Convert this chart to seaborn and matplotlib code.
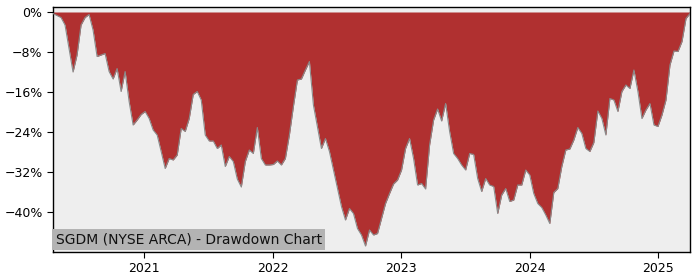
import matplotlib
matplotlib.use("Agg")
import matplotlib.pyplot as plt
import matplotlib.ticker as mticker
import numpy as np
import pandas as pd
import seaborn as sns

# ---- data (drawdown in %, sampled roughly every 11 days) ----
start_date = "2020-04-17"
end_date = "2025-04-01"
drawdown = [
    # 2020-04 .. 2021-01
    -0.3, -0.7, -1.1, -2.6, -7.3, -12.0, -8.6, -2.6, -1.1, -0.5,
    -3.6, -8.9, -8.6, -8.3, -11.9, -13.4, -11.3, -15.9, -11.9, -17.9,
    -22.6, -21.6, -20.5, -19.9, -21.3, -23.6, -24.6,
    # 2021
    -27.9, -31.3, -29.3, -29.6, -28.6, -23.3, -23.9, -21.3, -16.5, -15.9,
    -17.6, -24.6, -25.8, -25.8, -27.3, -26.6, -30.9, -28.9, -29.9, -33.4,
    -35.0, -29.9, -27.6, -28.3, -23.1, -29.3,
    # 2022
    -30.6, -30.6, -30.5, -29.8, -30.6, -29.3, -24.6, -18.9, -13.6, -13.4,
    -11.6, -9.9, -18.6, -22.9, -27.3, -25.3, -27.9, -31.6, -35.3, -38.9,
    -41.6, -39.3, -40.3, -43.3, -44.6, -46.8,
    # late 2022 .. 2023
    -43.6, -44.6, -44.3, -41.3, -38.3, -36.3, -34.4, -33.6, -31.6, -27.3,
    -25.3, -29.3, -34.6, -34.3, -35.4, -26.6, -21.6, -19.4, -21.8, -18.3,
    -23.9, -28.3, -29.3, -30.6, -31.6, -28.3, -28.5,
    # 2023 .. 2024
    -33.3, -35.9, -33.3, -34.6, -34.9, -40.3, -36.6, -35.3, -37.9, -37.6,
    -34.6, -34.6, -31.6, -32.6, -36.3, -38.3, -39.1, -40.6, -42.3, -36.1,
    -35.3, -30.9, -27.6, -27.4, -25.6, -23.1,
    # 2024 .. 2025
    -24.3, -27.3, -27.9, -26.1, -19.8, -21.3, -24.6, -17.3, -17.6, -19.9,
    -15.9, -14.6, -15.3, -11.6, -15.9, -21.3, -19.6, -18.3, -22.6, -22.9,
    -20.6, -17.6, -10.6, -7.8, -7.9, -5.9, -1.3, -0.3,
]
ytick_values = [0, -8, -16, -24, -32, -40]
year_ticks = ["2021", "2022", "2023", "2024", "2025"]
label_text = "SGDM (NYSE ARCA) - Drawdown Chart"

dates = pd.date_range(start_date, end_date, periods=len(drawdown))
df = pd.DataFrame({"date": dates, "drawdown": drawdown})

sns.set_style("ticks")
plt.rcParams["font.family"] = ["DejaVu Sans"]

fig = plt.figure(figsize=(7, 2.8), dpi=100)
ax = fig.add_axes([53 / 700, 1 - 252 / 280, 637 / 700, 245 / 280])
ax.set_facecolor("#eeeeee")

ax.fill_between(df["date"], df["drawdown"], 0, color="#b03030", linewidth=0, zorder=2)
sns.lineplot(data=df, x="date", y="drawdown", ax=ax, color="#8a8a8a", linewidth=0.8, zorder=3)

ax.set_xlim(df["date"].iloc[0], df["date"].iloc[-1])
ax.set_ylim(-48, 1)
ax.set_yticks(ytick_values)
ax.yaxis.set_major_formatter(
    mticker.FuncFormatter(lambda v, p: f"{v:.0f}%".replace("-", "\u2212"))
)
ax.set_xticks([pd.Timestamp(f"{y}-01-01") for y in year_ticks])
ax.set_xticklabels(year_ticks)
ax.tick_params(axis="both", labelsize=9, length=4, width=0.8, colors="black")
ax.set_xlabel("")
ax.set_ylabel("")
for s in ax.spines.values():
    s.set_visible(True)
    s.set_color("black")
    s.set_linewidth(1.0)

ax.text(0.004, 0.022, label_text, transform=ax.transAxes, fontsize=10,
        color="#111111", ha="left", va="bottom", zorder=5,
        bbox=dict(facecolor="#b3b3b3", edgecolor="none", pad=2.5))

fig.savefig("out.png", dpi=100)
